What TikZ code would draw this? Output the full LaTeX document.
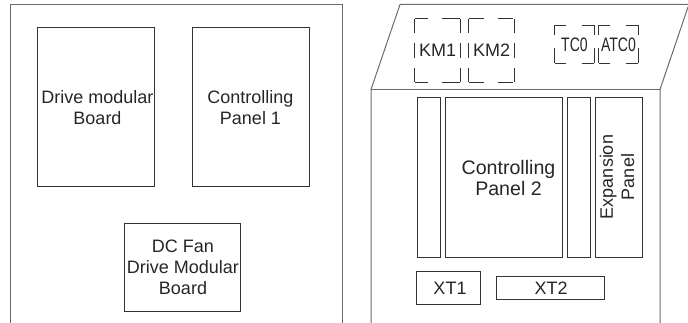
\documentclass[tikz,border=0pt]{standalone}
\usepackage{fontspec}
\setmainfont{Liberation Sans}
\newfontfamily\narrowfont[FakeStretch=.72]{Liberation Sans}
\definecolor{casegray}{gray}{.42}
\definecolor{boardgray}{gray}{.2}
\tikzset{
  casing/.style={draw=casegray,line width=1pt},
  board/.style={draw=boardgray,line width=.9pt,inner sep=0pt},
  boardtext/.style={align=center,inner sep=0pt,text=black!85,font=\fontsize{18}{21.3}\selectfont},
  relayside/.style={draw=boardgray,line width=.8pt},
  relaytext/.style={inner sep=0pt,text=black!85}
}
\begin{document}
\begin{tikzpicture}[x=1pt,y=-1pt]
\useasboundingbox (0,0) rectangle (688,323);

% Armoire gauche
\draw[casing] (10,323) -- (10,4.5) -- (342,4.5) -- (342,323);

\node[board,minimum width=117pt,minimum height=159pt] (drive) at (95.5,106.5) {};
\node[board,minimum width=117pt,minimum height=159pt] (panelone) at (250.5,106.5) {};
\node[board,minimum width=116pt,minimum height=88pt] (fan) at (182,267) {};

\node[boardtext] (drivetext) at (97.5,107.5) {Drive modular\\Board};
\node[boardtext] (panelonetext) at (250.5,107.5) {Controlling\\Panel 1};
\node[boardtext] (fantext) at (183,267.5) {DC Fan\\Drive Modular\\Board};

% Armoire droite
\draw[casing] (371,323) -- (371,89.5) -- (400,4.5) -- (688,4.5);
\draw[casing] (688,7) -- (660,89.5) -- (660,323);
\draw[casing] (371,89.5) -- (660,89.5);

\foreach \name/\x/\w in {
railone/428.5/23,
paneltwo/503.5/117,
railtwo/578.5/23,
expansion/618.5/47
}
{
\node[board,minimum width=\w pt,minimum height=160pt] (\name) at (\x,177) {};
}

\node[boardtext,font=\fontsize{19.6}{21.5}\selectfont] (paneltwotext) at (508.5,178) {Controlling\\Panel 2};
\node[boardtext,rotate=90] (expansiontext) at (617,177) {Expansion\\Panel};

\node[board,minimum width=64pt,minimum height=33pt] (xtone) at (448,287.5) {};
\node[board,minimum width=108pt,minimum height=23pt] (xttwo) at (550,287.5) {};
\node[boardtext] (xtonetext) at (450,288) {XT1};
\node[boardtext] (xttwotext) at (551,288) {XT2};

% Contacteurs
\foreach \name/\x/\txt/\top/\low in {
kmone/437.5/KM1/13/18,
kmtwo/491.5/KM2/15/15
}
{
\node[relaytext,minimum width=45pt,minimum height=63pt,font=\fontsize{18}{20}\selectfont] (\name) at (\x,50.5) {\txt};
\draw[relayside,dash pattern=on \top pt off 14pt on \low pt] (\name.north west) -- (\name.north east);
\draw[relayside,dash pattern=on \top pt off 14pt on \low pt] (\name.south west) -- (\name.south east);
\draw[relayside,dash pattern=on 14pt off 10pt on 15pt off 10pt on 14pt] (\name.north west) -- (\name.south west);
\draw[relayside,dash pattern=on 14pt off 10pt on 15pt off 10pt on 14pt] (\name.north east) -- (\name.south east);
}

\foreach \name/\x/\txt in {
tco/574.5/TC0,
atco/618.5/ATC0
}
{
\node[relaytext,minimum width=39pt,minimum height=38pt,font=\narrowfont\fontsize{19.5}{20}\selectfont] (\name) at (\x,44.5) {\txt};
\draw[relayside,dash pattern=on 11pt off 16pt on 12pt] (\name.north west) -- (\name.north east);
\draw[relayside,dash pattern=on 11pt off 16pt on 12pt] (\name.south west) -- (\name.south east);
\draw[relayside,dash pattern=on 10pt off 13pt on 15pt] (\name.north west) -- (\name.south west);
\draw[relayside,dash pattern=on 10pt off 13pt on 15pt] (\name.north east) -- (\name.south east);
}

\end{tikzpicture}
\end{document}
